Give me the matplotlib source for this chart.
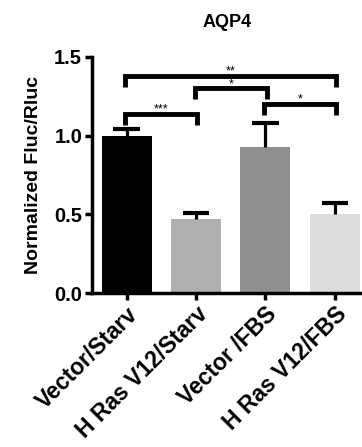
import matplotlib
matplotlib.use("Agg")
import matplotlib.pyplot as plt

categories = ["Vector/Starv", "H Ras V12/Starv", "Vector /FBS", "H Ras V12/FBS"]
values = [1.00, 0.47, 0.93, 0.50]
errors = [0.04, 0.04, 0.15, 0.07]
colors = ["#000000", "#b0b0b0", "#909090", "#dcdcdc"]
# brackets: (left index, right index, height, label)
brackets = [(0, 1, 1.14, "***"), (1, 2, 1.30, "*"), (2, 3, 1.20, "*"), (0, 3, 1.38, "**")]
yticks = [0.0, 0.5, 1.0, 1.5]

plt.rcParams['font.family'] = ['Liberation Sans', 'DejaVu Sans']
plt.rcParams['font.weight'] = 'bold'

fig = plt.figure(figsize=(3.62, 4.47), dpi=100)
ax = fig.add_axes([0.254, 0.3445, 0.757, 0.528])
x = list(range(len(categories)))
ax.bar(x, values, width=0.72, color=colors, edgecolor='none', zorder=2)
cap = 0.19
for xi, v, e in zip(x, values, errors):
    ax.plot([xi, xi], [v, v + e], color='black', lw=2.3, zorder=3, solid_capstyle='butt')
    ax.plot([xi - cap, xi + cap], [v + e, v + e], color='black', lw=3.0, zorder=3,
            solid_capstyle='butt')

ax.set_xlim(-0.5, 3.45)
ax.set_ylim(0, 1.5)
ax.set_yticks(yticks)
ax.set_yticklabels([f"{t:.1f}" for t in yticks], fontsize=14.5, fontweight='bold')
ax.set_xticks(x)
ax.set_xticklabels(categories, rotation=45, ha='right', rotation_mode='anchor',
                   fontsize=16.5, fontweight='bold')
ax.tick_params(axis='both', width=2.5, length=5, direction='out', pad=2)
for s in ['top', 'right']:
    ax.spines[s].set_visible(False)
ax.spines['left'].set_linewidth(2.5)
ax.spines['bottom'].set_linewidth(2.5)
ax.set_ylabel("Normalized Fluc/Rluc", fontsize=14, fontweight='bold', labelpad=9)
fig.text(0.627, 0.95, "AQP4", ha='center', va='center', fontsize=13, fontweight='bold')

drop = 0.07
for i, j, h, lab in brackets:
    xl, xr = i - 0.02, j + 0.02
    ax.plot([xl, xl, xr, xr], [h - drop, h, h, h - drop], color='black', lw=3.5,
            clip_on=False, solid_capstyle='butt', solid_joinstyle='miter', zorder=4)
    ax.text((i + j) / 2, h + 0.008, lab, ha='center', va='baseline', fontsize=9,
            fontweight='normal', clip_on=False)

fig.savefig("out.png", dpi=100)
